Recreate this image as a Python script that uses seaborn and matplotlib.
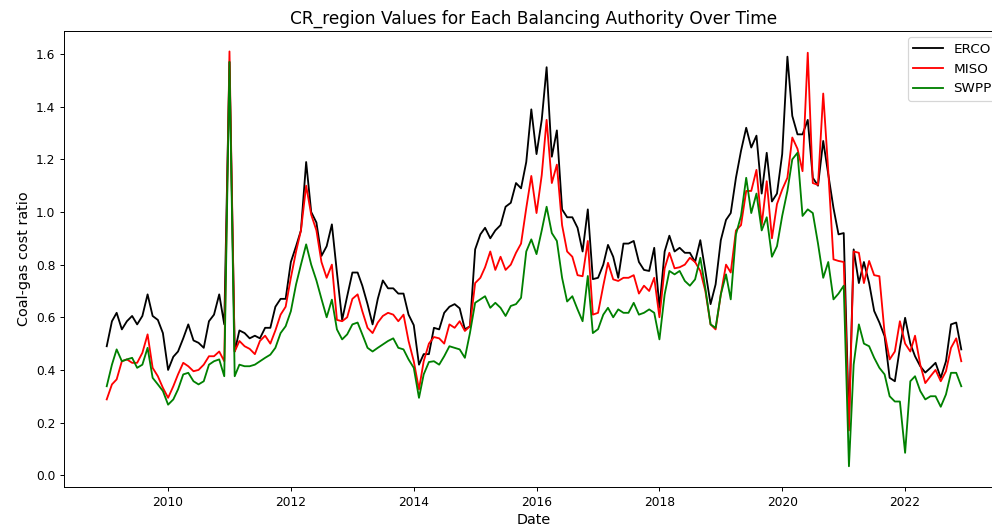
import pandas as pd
import seaborn as sns
import matplotlib.pyplot as plt

# monthly values, Jan 2009 .. Dec 2022
dates = pd.date_range("2009-01-01", periods=168, freq="MS")

erco = [
    0.49, 0.585, 0.617, 0.554, 0.585, 0.605, 0.573, 0.605, 0.687, 0.605,
    0.59, 0.54, 0.40, 0.45, 0.47, 0.52, 0.573, 0.512, 0.503, 0.484,
    0.585, 0.61, 0.687, 0.573, 1.57, 0.47, 0.55, 0.54, 0.52, 0.53,
    0.52, 0.56, 0.56, 0.64, 0.67, 0.67, 0.81, 0.87, 0.93, 1.19,
    1.0, 0.96, 0.833, 0.87, 0.953, 0.77, 0.59, 0.68, 0.77, 0.77,
    0.72, 0.65, 0.573, 0.67, 0.74, 0.71, 0.71, 0.69, 0.69, 0.61,
    0.57, 0.42, 0.46, 0.46, 0.56, 0.554, 0.617, 0.64, 0.65, 0.634,
    0.554, 0.566, 0.858, 0.915, 0.94, 0.90, 0.93, 0.95, 1.02, 1.035,
    1.11, 1.09, 1.19, 1.39, 1.22, 1.35, 1.55, 1.21, 1.31, 1.01,
    0.98, 0.98, 0.94, 0.85, 1.01, 0.745, 0.75, 0.80, 0.875, 0.83,
    0.75, 0.88, 0.88, 0.89, 0.81, 0.78, 0.776, 0.864, 0.636, 0.85,
    0.91, 0.85, 0.864, 0.845, 0.845, 0.81, 0.893, 0.776, 0.65, 0.725,
    0.893, 0.97, 0.996, 1.13, 1.232, 1.32, 1.245, 1.29, 1.07, 1.225,
    1.04, 1.07, 1.22, 1.59, 1.365, 1.295, 1.295, 1.35, 1.13, 1.10,
    1.27, 1.143, 1.015, 0.915, 0.92, 0.2, 0.858, 0.73, 0.81, 0.73,
    0.624, 0.58, 0.528, 0.37, 0.357, 0.484, 0.598, 0.50, 0.452, 0.414,
    0.39, 0.408, 0.427, 0.37, 0.433, 0.573, 0.58, 0.478,
]

miso = [
    0.288, 0.345, 0.364, 0.433, 0.44, 0.427, 0.427, 0.465, 0.535, 0.408,
    0.376, 0.332, 0.294, 0.338, 0.383, 0.427, 0.414, 0.395, 0.40, 0.42,
    0.452, 0.452, 0.47, 0.433, 1.61, 0.47, 0.51, 0.49, 0.48, 0.46,
    0.51, 0.53, 0.50, 0.55, 0.61, 0.64, 0.75, 0.85, 0.93, 1.10,
    0.99, 0.93, 0.81, 0.75, 0.80, 0.59, 0.585, 0.60, 0.67, 0.687,
    0.623, 0.56, 0.54, 0.58, 0.605, 0.617, 0.61, 0.585, 0.61, 0.51,
    0.433, 0.326, 0.433, 0.50, 0.525, 0.52, 0.50, 0.573, 0.56, 0.585,
    0.548, 0.566, 0.73, 0.75, 0.79, 0.85, 0.78, 0.83, 0.78, 0.80,
    0.845, 0.88, 1.015, 1.137, 0.996, 1.14, 1.35, 1.11, 1.18, 0.95,
    0.85, 0.83, 0.76, 0.756, 0.89, 0.61, 0.617, 0.72, 0.807, 0.744,
    0.738, 0.75, 0.75, 0.76, 0.69, 0.72, 0.70, 0.75, 0.60, 0.786,
    0.845, 0.786, 0.79, 0.80, 0.826, 0.81, 0.776, 0.70, 0.573, 0.554,
    0.687, 0.80, 0.77, 0.93, 0.95, 1.08, 1.08, 1.16, 0.95, 1.117,
    0.90, 1.03, 1.085, 1.13, 1.283, 1.24, 1.155, 1.605, 1.11, 1.103,
    1.45, 1.155, 0.82, 0.814, 0.81, 0.17, 0.85, 0.845, 0.73, 0.814,
    0.76, 0.756, 0.54, 0.44, 0.47, 0.585, 0.50, 0.47, 0.53, 0.42,
    0.35, 0.376, 0.40, 0.357, 0.395, 0.484, 0.52, 0.433,
]

swpp = [
    0.338, 0.42, 0.478, 0.433, 0.44, 0.446, 0.408, 0.42, 0.484, 0.37,
    0.345, 0.32, 0.268, 0.288, 0.326, 0.383, 0.389, 0.357, 0.345, 0.357,
    0.42, 0.433, 0.44, 0.376, 1.57, 0.376, 0.42, 0.414, 0.414, 0.42,
    0.433, 0.446, 0.458, 0.484, 0.54, 0.566, 0.623, 0.725, 0.80, 0.877,
    0.80, 0.74, 0.67, 0.60, 0.667, 0.554, 0.516, 0.535, 0.573, 0.58,
    0.535, 0.484, 0.47, 0.484, 0.497, 0.51, 0.52, 0.484, 0.478, 0.44,
    0.408, 0.294, 0.383, 0.43, 0.433, 0.42, 0.452, 0.49, 0.484, 0.478,
    0.446, 0.54, 0.655, 0.668, 0.68, 0.636, 0.655, 0.636, 0.605, 0.643,
    0.65, 0.674, 0.85, 0.896, 0.84, 0.93, 1.02, 0.92, 0.89, 0.75,
    0.66, 0.68, 0.63, 0.585, 0.757, 0.54, 0.555, 0.61, 0.636, 0.60,
    0.63, 0.617, 0.617, 0.655, 0.61, 0.617, 0.63, 0.617, 0.516, 0.687,
    0.776, 0.763, 0.776, 0.738, 0.72, 0.744, 0.826, 0.71, 0.573, 0.56,
    0.687, 0.763, 0.668, 0.915, 0.985, 1.13, 0.996, 1.07, 0.93, 0.98,
    0.83, 0.87, 0.985, 1.08, 1.20, 1.225, 0.985, 1.01, 0.996, 0.88,
    0.75, 0.81, 0.668, 0.69, 0.72, 0.034, 0.42, 0.573, 0.50, 0.49,
    0.446, 0.408, 0.383, 0.30, 0.28, 0.28, 0.085, 0.357, 0.376, 0.32,
    0.288, 0.30, 0.30, 0.26, 0.307, 0.389, 0.389, 0.338,
]

regions = ["ERCO", "MISO", "SWPP"]
colors = ["black", "red", "green"]

dpi = 88
fig = plt.figure(figsize=(992 / dpi, 531 / dpi), dpi=dpi)
# axes runs a little past the right edge, as in the cropped original
ax = fig.add_axes([64 / 992, 44 / 531, 940 / 992, 456.3 / 531])

for name, vals, c in zip(regions, [erco, miso, swpp], colors):
    df = pd.DataFrame({"Date": dates, "CR": vals})
    sns.lineplot(data=df, x="Date", y="CR", color=c, label=name, ax=ax)

ax.set_title("CR_region Values for Each Balancing Authority Over Time", fontsize=13.9)
ax.set_xlabel("Date", fontsize=11.8)
ax.set_ylabel("Coal-gas cost ratio", fontsize=11.8)
ax.legend(loc="upper right", fontsize=11, handlelength=2.2)

fig.savefig("out.png", dpi=dpi)
